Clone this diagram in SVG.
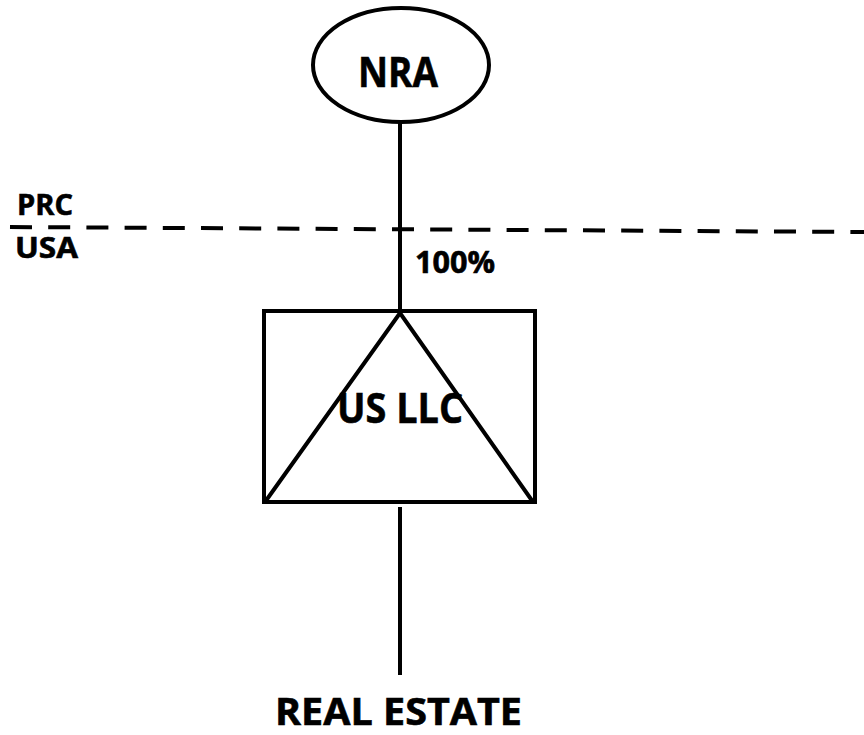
<svg xmlns="http://www.w3.org/2000/svg" width="864" height="735" viewBox="0 0 864 735">
<style>
.ln{stroke:#000;stroke-width:4;fill:none}
.t{font-family:"Open Sans","Liberation Sans",sans-serif;font-weight:bold;fill:#000;stroke:#000;stroke-width:0.6}
</style>
<rect width="864" height="735" fill="#fff"/>
<g id="border">
<line class="ln" x1="10" y1="227" x2="864" y2="232" stroke-dasharray="22 16.2" stroke-width="5"/>
<text class="t" x="17" y="215" font-size="28" textLength="56" lengthAdjust="spacingAndGlyphs">PRC</text>
<text class="t" x="15" y="258" font-size="29" textLength="63" lengthAdjust="spacingAndGlyphs">USA</text>
</g>
<g id="connectors">
<line class="ln" x1="400" y1="122" x2="400" y2="311"/>
<line class="ln" x1="400" y1="507" x2="400" y2="675"/>
<text class="t" x="415" y="273" font-size="30" textLength="80" lengthAdjust="spacingAndGlyphs">100%</text>
</g>
<g id="nra">
<ellipse class="ln" cx="401" cy="65" rx="88" ry="57" stroke-width="4.5"/>
<text class="t" x="358" y="87" font-size="42" textLength="80" lengthAdjust="spacingAndGlyphs">NRA</text>
</g>
<g id="us-llc">
<rect class="ln" x="264" y="311" width="271" height="191" stroke-width="5"/>
<polyline class="ln" points="265,502 400,313 533,502" stroke-width="5" stroke-linejoin="miter"/>
<text class="t" x="337" y="423" font-size="42" textLength="126" lengthAdjust="spacingAndGlyphs">US LLC</text>
</g>
<g id="real-estate">
<text class="t" x="275" y="725" font-size="38" textLength="247" lengthAdjust="spacingAndGlyphs">REAL ESTATE</text>
</g>
</svg>
